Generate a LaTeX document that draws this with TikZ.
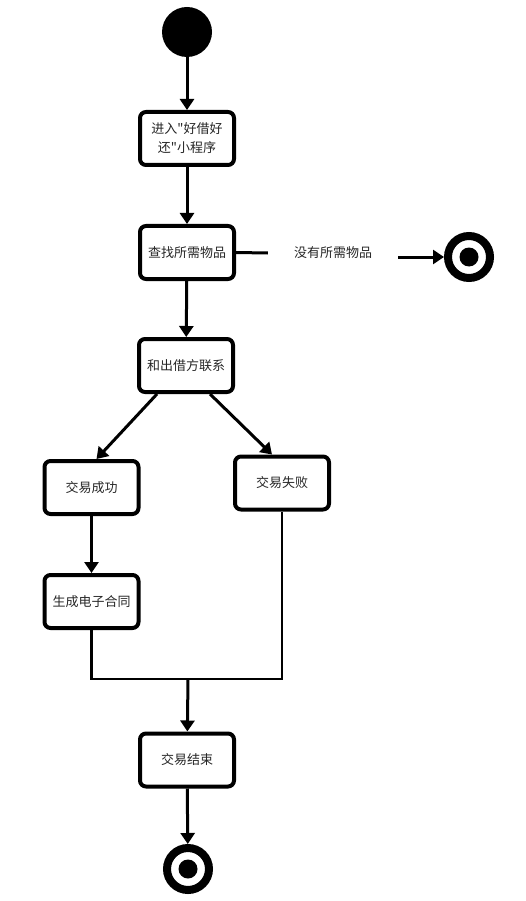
\documentclass[tikz,border=0pt]{standalone}
\usepackage{fontspec}
\newfontfamily\cjk{Noto Sans CJK SC}
\usetikzlibrary{arrows.meta,positioning}

\begin{document}
\begin{tikzpicture}[
     x=1pt, y=-1pt,
     % define styles
     activity/.style={
         draw,
         line width=4pt,
         rounded corners=6pt,
         minimum width=94pt,
         minimum height=53pt,
         align=center,
         text=black!85,
         font=\cjk\fontsize{13pt}{19pt}\selectfont
     },
     startdot/.style={
         circle, fill=black, draw=none,
         minimum size=50pt, inner sep=0pt
     },
     enddot/.style={
         circle, draw, line width=8pt, fill=white,
         minimum size=42pt, inner sep=0pt
     },
     guard/.style={
         draw=none, inner xsep=26pt, inner ysep=2pt,
         text=black!85,
         font=\cjk\fontsize{13pt}{19pt}\selectfont
     },
     flow/.style={line width=3pt, ->},
     joinline/.style={line width=2.5pt},
     >={Triangle[width=14pt,length=11pt]}
]
\useasboundingbox (0,0) rectangle (526,901);

% states and activities
\node[startdot] (start) at (187,32) {};
\node[activity] (enter) at (187,138.5) {进入"好借好\\还"小程序};
\node[activity] (find) at (187,252.5) {查找所需物品};
\node[guard] (none) at (333,253) {没有所需物品};
\node[enddot] (stopnone) at (469,257) {};
\node[activity] (contact) at (186,365.5) {和出借方联系};
\node[activity] (success) at (91.5,487.5) {交易成功};
\node[activity] (fail) at (282,483) {交易失败};
\node[activity] (contract) at (91.5,601.5) {生成电子合同};
\node[activity] (finish) at (187,760) {交易结束};
\node[enddot] (stop) at (188,869) {};
\coordinate (merge) at (188,679);

% inner dots of the final states
\fill (stopnone.center) circle (9.5pt);
\fill (stop.center) circle (9.5pt);

% connectors
\draw[flow] (start) -- (enter);
\draw[flow] (enter) -- (find);
\draw[line width=3pt] (find.east) -- (none.west);
\draw[flow] (none.east |- stopnone) -- (stopnone);
\draw[flow] (find) -- (contact);
\draw[flow] ([xshift=-29pt]contact.south) -- ([xshift=5pt]success.north);
\draw[flow] ([xshift=24pt]contact.south) -- ([xshift=-10pt]fail.north);
\draw[flow] (success) -- (contract);
\draw[joinline] (contract.south) |- (merge) -| (fail.south);
\draw[flow] (merge) -- (finish);
\draw[flow] (finish) -- (stop);
\end{tikzpicture}
\end{document}
